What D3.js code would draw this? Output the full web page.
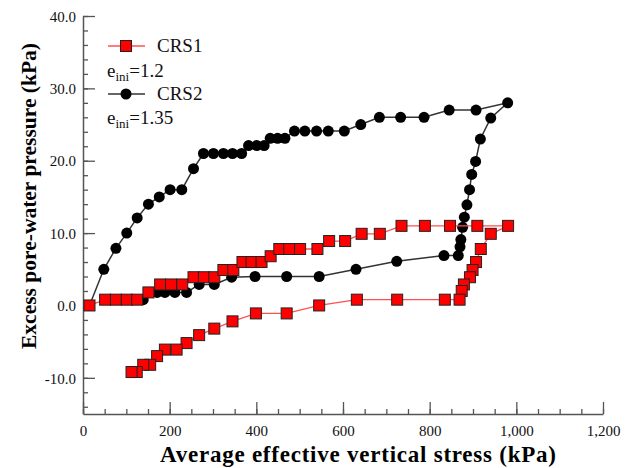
<!DOCTYPE html>
<html>
<head>
<meta charset="utf-8">
<script src="https://cdn.jsdelivr.net/npm/d3@7"></script>
<style>
  body { margin: 0; background: #fff; }
  svg { display: block; }
</style>
</head>
<body>
<div id="chart"></div>
<script>
// CRS1 (e_ini = 1.2): loading then unloading
const crs1Stress = [15, 51, 76, 101, 125, 151, 178, 203, 229, 255, 279, 303, 324, 347, 368, 389, 412, 433,
  453, 476, 501, 541, 568, 605, 643, 685, 735, 789, 847, 910, 981,
  941, 918, 907, 899, 893, 879, 874, 869, 835, 725, 632, 545, 470, 399, 345, 303, 268, 239, 216, 189,
  171, 155, 139, 124, 112];
const crs1Pwp = [0, 0.8, 0.8, 0.8, 0.8, 1.8, 2.9, 2.9, 2.9, 3.9, 3.9, 3.9, 4.9, 4.9, 6.0, 6.0, 6.0, 6.8,
  7.8, 7.8, 7.8, 7.8, 8.9, 8.9, 9.9, 9.9, 11.0, 11.0, 11.0, 11.0, 11.0,
  9.9, 7.8, 6.0, 4.9, 3.9, 2.9, 2.0, 0.8, 0.8, 0.8, 0.8, 0.0, -1.1, -1.1, -2.2, -3.2, -4.1, -5.2, -6.1, -6.1,
  -7.0, -8.2, -8.2, -9.2, -9.2];

// CRS2 (e_ini = 1.35)
const crs2Stress = [15, 48, 76, 101, 125, 151, 176, 201, 228, 255, 278, 301, 324, 345, 366, 382, 401, 418,
  432, 449, 466, 488, 512, 539, 566, 603, 641, 684, 733, 787, 845, 907, 980,
  941, 917, 906, 897, 892, 886, 880, 876, 872, 870, 866, 833, 724, 630, 545, 470, 397, 343, 303, 268,
  239, 212, 189, 171, 139];
const crs2Pwp = [0, 5.0, 7.9, 10.0, 12.1, 14.0, 15.0, 16.0, 16.0, 18.9, 21.0, 21.0, 21.0, 21.0, 21.0, 22.1, 22.1, 22.1,
  23.1, 23.1, 23.1, 24.1, 24.1, 24.1, 24.1, 24.1, 25.0, 26.0, 26.0, 26.0, 27.0, 27.0, 28.0,
  25.9, 23.0, 19.9, 18.1, 16.0, 13.9, 12.2, 10.8, 9.1, 8.1, 6.9, 6.9, 6.1, 5.0, 4.0, 4.0, 4.0, 3.9, 2.9, 2.9,
  1.8, 1.8, 1.8, 1.8, 0.8];

const xTicks = [0, 200, 400, 600, 800, 1000, 1200];
const yTicks = [-10, 0, 10, 20, 30, 40];

const width = 632, height = 468;
const serif = "'Liberation Serif', 'Times New Roman', serif";

const svg = d3.select("#chart").append("svg")
    .attr("width", width)
    .attr("height", height);

const x = d3.scaleLinear().domain([0, 1200]).range([83, 603]);
const y = d3.scaleLinear().domain([-15, 40]).range([414, 16]);

// minor ticks
svg.append("g")
    .attr("transform", `translate(0, ${y(-15)})`)
    .call(d3.axisBottom(x).tickValues(d3.range(0, 1201, 50)).tickSizeInner(-5).tickSizeOuter(0).tickFormat(""))
    .call(g => g.select(".domain").remove());
svg.append("g")
    .attr("transform", `translate(${x(0)}, 0)`)
    .call(d3.axisLeft(y).tickValues(d3.range(-14, 41, 2)).tickSizeInner(-5).tickSizeOuter(0).tickFormat(""))
    .call(g => g.select(".domain").remove());

// major ticks + labels
const xAxis = svg.append("g")
    .attr("transform", `translate(0, ${y(-15)})`)
    .call(d3.axisBottom(x).tickValues(xTicks).tickSizeInner(-12).tickSizeOuter(0)
      .tickPadding(11).tickFormat(d3.format(",")));
const yAxis = svg.append("g")
    .attr("transform", `translate(${x(0)}, 0)`)
    .call(d3.axisLeft(y).tickValues(yTicks).tickSizeInner(-12).tickSizeOuter(0)
      .tickPadding(7).tickFormat(d => d.toFixed(1)));

svg.selectAll(".tick line").attr("stroke", "#555").attr("stroke-width", 1.3);
svg.selectAll(".domain").attr("stroke", "#555").attr("stroke-width", 1.5);
svg.selectAll(".tick text")
    .style("font-family", serif)
    .style("font-size", "15px")
    .attr("fill", "#111");
yAxis.selectAll(".tick text").attr("dy", "0.35em");

// axis titles
svg.append("text")
    .attr("x", 358)
    .attr("y", 462)
    .attr("text-anchor", "middle")
    .attr("textLength", 396)
    .attr("lengthAdjust", "spacing")
    .style("font-family", serif)
    .style("font-weight", "bold")
    .style("font-size", "23px")
    .text("Average effective vertical stress (kPa)");

svg.append("text")
    .attr("transform", "translate(36, 196) rotate(-90)")
    .attr("text-anchor", "middle")
    .style("font-family", serif)
    .style("font-weight", "bold")
    .style("font-size", "21.5px")
    .text("Excess pore-water pressure (kPa)");

// series
const crs1 = crs1Stress.map((s, i) => ({s: s, p: crs1Pwp[i]}));
const crs2 = crs2Stress.map((s, i) => ({s: s, p: crs2Pwp[i]}));
const line = d3.line().x(d => x(d.s)).y(d => y(d.p));

svg.append("path")
    .datum(crs2)
    .attr("fill", "none")
    .attr("stroke", "#333")
    .attr("stroke-width", 1.5)
    .attr("d", line);

svg.append("g")
  .selectAll("circle")
  .data(crs2)
  .join("circle")
    .attr("cx", d => x(d.s))
    .attr("cy", d => y(d.p))
    .attr("r", 5.5)
    .attr("fill", "#000");

svg.append("path")
    .datum(crs1)
    .attr("fill", "none")
    .attr("stroke", "#ff5050")
    .attr("stroke-width", 1.3)
    .attr("d", line);

const sq = 11;
svg.append("g")
  .selectAll("rect")
  .data(crs1)
  .join("rect")
    .attr("x", d => x(d.s) - sq / 2)
    .attr("y", d => y(d.p) - sq / 2)
    .attr("width", sq)
    .attr("height", sq)
    .attr("fill", "#ff0000")
    .attr("stroke", "#222")
    .attr("stroke-width", 1);

// legend
const legend = svg.append("g")
    .style("font-family", serif)
    .style("font-size", "19px")
    .attr("fill", "#111");

legend.append("line")
    .attr("x1", 108).attr("x2", 145).attr("y1", 46).attr("y2", 46)
    .attr("stroke", "#ff5050").attr("stroke-width", 1.3);
legend.append("rect")
    .attr("x", 126 - sq / 2).attr("y", 46 - sq / 2)
    .attr("width", sq).attr("height", sq)
    .attr("fill", "#ff0000").attr("stroke", "#222");
legend.append("text").attr("x", 157).attr("y", 52).text("CRS1");

legend.append("line")
    .attr("x1", 108).attr("x2", 145).attr("y1", 94).attr("y2", 94)
    .attr("stroke", "#333").attr("stroke-width", 1.5);
legend.append("circle")
    .attr("cx", 126).attr("cy", 94).attr("r", 5.5).attr("fill", "#000");
legend.append("text").attr("x", 157).attr("y", 100).text("CRS2");

function eIni(yPos, val) {
  const t = legend.append("text").attr("x", 107).attr("y", yPos);
  t.append("tspan").text("e");
  t.append("tspan").style("font-size", "13px").attr("dy", 4).text("ini");
  t.append("tspan").attr("dy", -4).text("=" + val);
}
eIni(77, "1.2");
eIni(124, "1.35");
</script>
</body>
</html>
